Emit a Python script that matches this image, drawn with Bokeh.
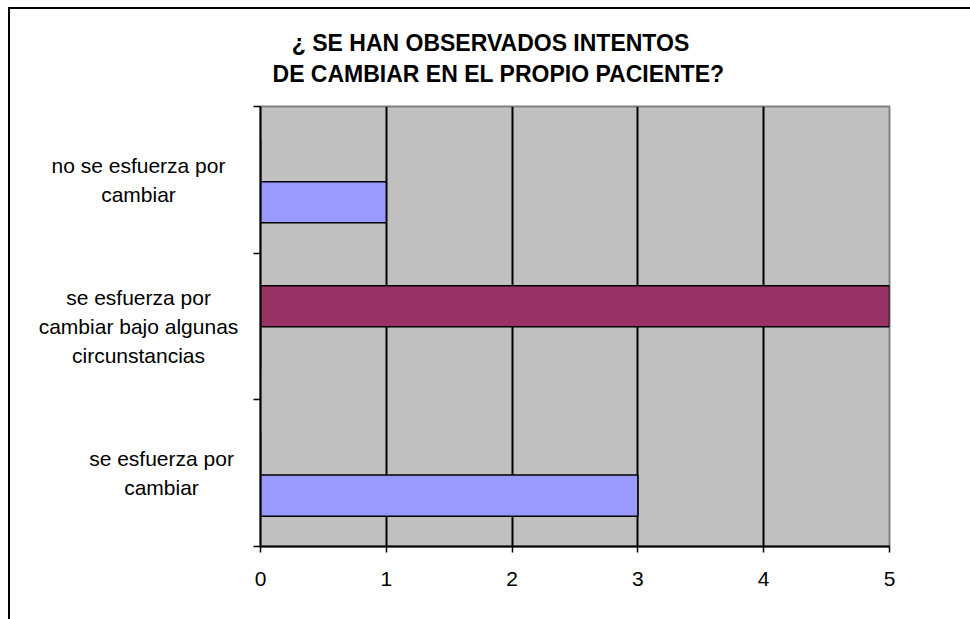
from bokeh.plotting import figure
from bokeh.layouts import row, column
from bokeh.models import Range1d, FixedTicker, ColumnDataSource
from bokeh.core.properties import value
from bokeh.transform import dodge
from bokeh.embed import file_html
from bokeh.resources import INLINE

# ---- data ----
categories = [
    "se esfuerza por\ncambiar",
    "se esfuerza por\ncambiar bajo algunas\ncircunstancias",
    "no se esfuerza por\ncambiar",
]
series_blue = [3, 0, 1]
series_maroon = [0, 5, 0]
x_ticks = [0, 1, 2, 3, 4, 5]
title_lines = ["¿ SE HAN OBSERVADOS INTENTOS", "DE CAMBIAR EN EL PROPIO PACIENTE?"]

# ---- layout / style ----
FONT = "Liberation Sans"
TOTAL_W = 960
TITLE_H = 90                          # height of the title strip (px)
LEFT_W = 240                          # width of the category-label panel (px)
label_centers_px = [151, 128, 128]    # horizontal centre of each label inside that panel
title_centers_px = [(480, 57), (488, 25.5)]  # (x, y) of each title line in the title strip
TOP, BOTTOM = 7, 73
BODY_H = 520

n = len(categories)
band_centers = [i + 0.5 for i in range(n)]  # category slot centres on the band scale
src = ColumnDataSource(dict(pos=band_centers, cat=categories,
                            blue=series_blue, maroon=series_maroon,
                            lx=label_centers_px))

# ---- title strip ----
ttl = figure(
    x_range=Range1d(0, TOTAL_W), y_range=Range1d(0, TITLE_H),
    width=TOTAL_W, height=TITLE_H,
    min_border=0, x_axis_location=None, y_axis_location=None,
    output_backend="svg", toolbar_location=None,
)
ttl.outline_line_color = None
ttl.background_fill_color = "white"
ttl.border_fill_color = "white"
ttl.xgrid.visible = False
ttl.ygrid.visible = False
ttl.text(x=[c[0] for c in title_centers_px], y=[c[1] for c in title_centers_px],
         text=title_lines, text_align="center", text_baseline="middle",
         text_font=value(FONT), text_font_size="23px", text_font_style="bold",
         text_color="black")

# ---- label panel (category names) ----
lab = figure(
    y_range=Range1d(0, n), x_range=Range1d(0, LEFT_W),
    width=LEFT_W, height=BODY_H,
    min_border_left=0, min_border_right=0, min_border_top=TOP, min_border_bottom=BOTTOM,
    x_axis_location=None, y_axis_location=None,
    output_backend="svg", toolbar_location=None,
)
lab.outline_line_color = None
lab.background_fill_color = "white"
lab.border_fill_color = "white"
lab.xgrid.visible = False
lab.ygrid.visible = False
lab.text(x="lx", y="pos", text="cat", source=src, text_align="center",
         text_baseline="middle", text_font=value(FONT), text_font_size="21px",
         text_line_height=1.27, text_color="black")

# ---- main chart ----
p = figure(
    y_range=Range1d(0, n),
    x_range=Range1d(0, 5),
    width=TOTAL_W - LEFT_W, height=BODY_H,
    min_border_left=10, min_border_right=81, min_border_top=TOP, min_border_bottom=BOTTOM,
    output_backend="svg", toolbar_location=None,
)
p.background_fill_color = "#C0C0C0"
p.border_fill_color = "white"
p.outline_line_color = "#808080"
p.outline_line_width = 2

p.hbar(y=dodge("pos", -0.153), right="blue", left=0, height=0.28,
       source=src, fill_color="#9999FF", line_color="black", line_width=1.5)
p.hbar(y=dodge("pos", 0.138), right="maroon", left=0, height=0.28,
       source=src, fill_color="#993366", line_color="black", line_width=1.5)

# x axis
p.xaxis.ticker = FixedTicker(ticks=x_ticks)
p.xaxis.axis_line_color = "black"
p.xaxis.axis_line_width = 2
p.xaxis.major_tick_line_color = "black"
p.xaxis.major_tick_line_width = 1.5
p.xaxis.major_tick_out = 6
p.xaxis.major_tick_in = 0
p.xaxis.minor_tick_line_color = None
p.xaxis.major_label_text_font = FONT
p.xaxis.major_label_text_font_size = "21px"
p.xaxis.major_label_text_color = "black"
p.xaxis.major_label_standoff = 19

p.xgrid.ticker = FixedTicker(ticks=[1, 2, 3, 4])
p.xgrid.grid_line_color = "black"
p.xgrid.grid_line_width = 2
p.ygrid.visible = False

# y axis: ticks at band boundaries only
p.yaxis.ticker = FixedTicker(ticks=list(range(n + 1)))
p.yaxis.axis_line_color = "black"
p.yaxis.axis_line_width = 2
p.yaxis.major_tick_line_color = "black"
p.yaxis.major_tick_line_width = 1.5
p.yaxis.major_tick_out = 7
p.yaxis.major_tick_in = 0
p.yaxis.minor_tick_line_color = None
p.yaxis.major_label_text_color = None
p.yaxis.major_label_text_font_size = "1px"
p.yaxis.major_label_standoff = 0

layout = column(ttl, row(lab, p, spacing=0), spacing=0,
                styles={"border-left": "2px solid black", "border-top": "2px solid black",
                        "margin-left": "8px", "margin-top": "7px"})

open("out.html", "w").write(file_html(layout, INLINE))
